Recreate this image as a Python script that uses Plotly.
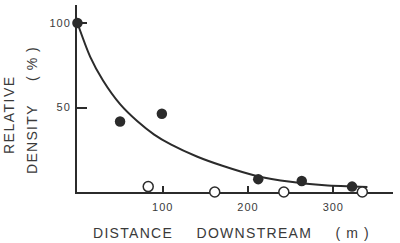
import plotly.graph_objects as go

# data
filled_x = [0, 50, 99, 212, 263, 322]
filled_y = [100, 41.7, 46.3, 7.6, 6.5, 3.2]
open_x = [83, 161, 242, 334]
open_y = [3.2, 0, 0, 0]
curve_x = [0, 15, 30, 50, 70, 90, 110, 140, 170, 210, 250, 290, 340]
curve_y = [100, 80, 66, 52, 42, 34, 28, 21, 15.5, 9.5, 6, 4, 3]
x_ticks = [100, 200, 300]
y_ticks = [50, 100]

ink = "#2b2b2b"
txt = "#3a3a3a"
font = "Liberation Sans, Arial, sans-serif"

def spaced(s, ls):
    return f'<span style="letter-spacing:{ls}px">{s}</span>'

fig = go.Figure()
fig.add_trace(go.Scatter(x=curve_x, y=curve_y, mode="lines",
                         line=dict(color=ink, width=2, shape="spline", smoothing=0.8),
                         cliponaxis=False, hoverinfo="skip"))
fig.add_trace(go.Scatter(x=open_x, y=open_y, mode="markers",
                         marker=dict(size=10, color="white", line=dict(color=ink, width=1.5)),
                         cliponaxis=False))
fig.add_trace(go.Scatter(x=filled_x, y=filled_y, mode="markers",
                         marker=dict(size=10.5, color=ink, line=dict(width=0)),
                         cliponaxis=False))

fig.update_layout(
    width=400, height=243,
    margin=dict(l=77, r=7, t=5, b=51),
    paper_bgcolor="white", plot_bgcolor="white",
    showlegend=False,
    font=dict(family=font, color=txt),
    xaxis=dict(range=[-0.5, 370], showgrid=False, zeroline=False,
               showline=True, linecolor=ink, linewidth=2, layer="below traces",
               tickvals=x_ticks, ticktext=[spaced(str(v), 1) for v in x_ticks],
               ticks="inside", ticklen=6, tickwidth=1.5, tickcolor=ink,
               tickfont=dict(size=11, color=txt), ticklabelstandoff=4),
    yaxis=dict(range=[0, 110.7], showgrid=False, zeroline=False,
               showline=True, linecolor=ink, linewidth=2, layer="below traces",
               tickvals=y_ticks, ticktext=[spaced(str(v), 1) for v in y_ticks],
               ticks="inside", ticklen=10, tickwidth=2, tickcolor=ink,
               tickfont=dict(size=11, color=txt), ticklabelstandoff=2),
)

fig.add_annotation(text=spaced("DISTANCE", 1.3) + "      " + spaced("DOWNSTREAM", 1.3) + "      " + spaced("( m )", 1.1),
                   xref="paper", yref="paper",
                   x=(231 - 77) / 316, y=(192 - 233) / 187, showarrow=False,
                   font=dict(size=14, color=txt, family=font), xanchor="center", yanchor="middle")
fig.add_annotation(text=spaced("RELATIVE", 1.5), xref="paper", yref="paper",
                   x=(9 - 77) / 316, y=(192 - 115) / 187, textangle=-90, showarrow=False,
                   font=dict(size=14, color=txt, family=font), xanchor="center", yanchor="middle")
fig.add_annotation(text=spaced("DENSITY", 1.3) + "      " + spaced("( % )", 1.0), xref="paper", yref="paper",
                   x=(32 - 77) / 316, y=(192 - 110) / 187, textangle=-90, showarrow=False,
                   font=dict(size=14, color=txt, family=font), xanchor="center", yanchor="middle")

fig.write_html("out.html")
